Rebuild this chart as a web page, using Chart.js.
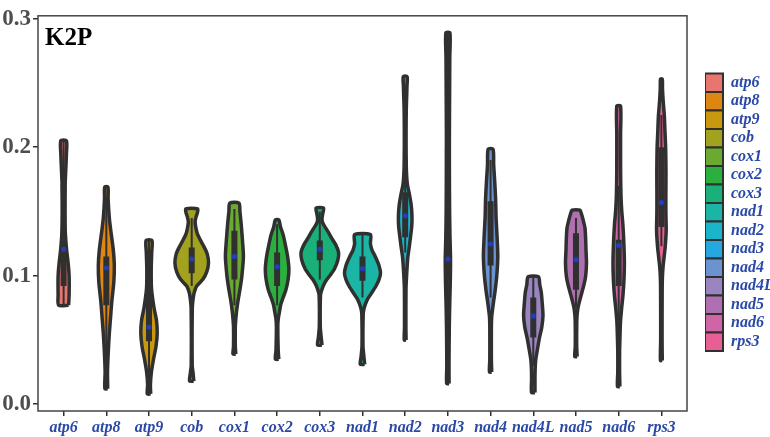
<!DOCTYPE html>
<html><head><meta charset="utf-8">
<script src="https://cdn.jsdelivr.net/npm/chart.js@4/dist/chart.umd.min.js"></script>
<style>html,body{margin:0;padding:0;background:#fff}#wrap{width:770px;height:437px;position:relative}</style>
</head><body><div id="wrap"><canvas id="c"></canvas></div>
<script>
// ---- data ----
const genes = ['atp6','atp8','atp9','cob','cox1','cox2','cox3','nad1','nad2','nad3','nad4','nad4L','nad5','nad6','rps3'];
const yTicks = [0.0, 0.1, 0.2, 0.3];
const boxLow    = [0.092, 0.077, 0.049, 0.102, 0.097, 0.092, 0.112, 0.096, 0.130, 0.097, 0.108, 0.052, 0.089, 0.092, 0.138];
const boxHigh   = [0.171, 0.115, 0.093, 0.122, 0.135, 0.118, 0.1275, 0.115, 0.165, 0.200, 0.158, 0.083, 0.133, 0.128, 0.200];
const whiskLow  = [0.077, 0.027, 0.020, 0.092, 0.077, 0.077, 0.097, 0.083, 0.118, 0.016, 0.083, 0.030, 0.075, 0.065, 0.123];
const whiskHigh = [0.205, 0.160, 0.1275, 0.145, 0.152, 0.140, 0.150, 0.132, 0.176, 0.289, 0.190, 0.099, 0.145, 0.170, 0.225];
const means     = [0.1206, 0.106, 0.060, 0.113, 0.115, 0.107, 0.1206, 0.1056, 0.1466, 0.113, 0.1247, 0.0687, 0.1125, 0.1237, 0.157];
// violin density profiles: [value, relative density]
const violin_atp6 = [[0.077,5],[0.085,5.5],[0.100,5.5],[0.110,4.5],[0.120,3],[0.135,1.6],[0.150,1.2],[0.170,1.5],[0.185,2.3],[0.195,2.8],[0.205,2.8]];
const violin_atp8 = [[0.012,1.4],[0.025,1.2],[0.040,1.9],[0.055,3],[0.065,4],[0.080,5.5],[0.095,7.5],[0.108,8],[0.120,7],[0.135,4.5],[0.145,3],[0.160,1.8],[0.169,1.6]];
const violin_atp9 = [[0.008,1.7],[0.015,1.4],[0.025,2.4],[0.035,4.5],[0.045,7],[0.055,8.2],[0.065,7.5],[0.075,5],[0.090,2.5],[0.105,2.2],[0.118,2.7],[0.1275,2.9]];
const violin_cob  = [[0.018,2.1],[0.024,1.4],[0.030,0.5],[0.075,0.6],[0.082,1.4],[0.087,2.5],[0.092,5],[0.097,11],[0.103,15],[0.110,16.8],[0.117,15.5],[0.123,12],[0.128,8.5],[0.133,5.5],[0.138,4],[0.142,3.4],[0.146,4.4],[0.149,5.7],[0.152,5.9]];
const violin_cox1 = [[0.039,1.4],[0.045,0.9],[0.060,0.9],[0.066,1.4],[0.072,2.1],[0.080,3.5],[0.090,5.7],[0.100,7.5],[0.115,9],[0.128,8],[0.140,6.8],[0.150,5.5],[0.1565,4.6]];
const violin_cox2 = [[0.035,1.7],[0.042,1.1],[0.060,0.7],[0.066,1.1],[0.072,2.4],[0.077,3.5],[0.083,6],[0.089,8.8],[0.097,11],[0.105,11.8],[0.115,10.5],[0.125,8],[0.132,6],[0.138,3.4],[0.1435,1.7]];
const violin_cox3 = [[0.046,2.2],[0.052,1.4],[0.060,0.5],[0.085,0.7],[0.089,2],[0.093,4],[0.097,7],[0.101,11],[0.105,14.5],[0.112,18],[0.118,18.8],[0.124,16],[0.129,12],[0.133,9.2],[0.137,6],[0.141,3],[0.144,2.2],[0.148,2.9],[0.1527,3.7]];
const violin_nad1 = [[0.031,2.2],[0.037,1.4],[0.045,0.5],[0.070,0.7],[0.074,1.4],[0.078,3],[0.082,5.2],[0.087,9.5],[0.092,13.5],[0.097,16.5],[0.102,18],[0.108,16.5],[0.115,12.7],[0.120,9.5],[0.125,7.9],[0.132,7.9]];
const violin_nad2 = [[0.050,0.9],[0.060,0.7],[0.090,0.8],[0.100,1.4],[0.108,2],[0.115,2.7],[0.122,4],[0.130,5.3],[0.138,6.5],[0.146,6.8],[0.155,6],[0.163,4.3],[0.170,2.4],[0.176,1.6],[0.185,1.1],[0.200,0.9],[0.215,0.9],[0.230,1.1],[0.240,1.5],[0.248,1.8],[0.255,1.9]];
const violin_nad3 = [[0.016,1.2],[0.030,1.1],[0.060,1.4],[0.080,1.9],[0.092,2.3],[0.105,2.6],[0.115,2.6],[0.130,2.1],[0.150,1.7],[0.180,1.5],[0.210,1.5],[0.240,1.7],[0.270,1.9],[0.289,2.0]];
const violin_nad4 = [[0.025,1.1],[0.035,0.8],[0.060,0.8],[0.068,1.1],[0.074,2],[0.080,3],[0.088,4.5],[0.100,6.2],[0.115,7.2],[0.130,6.5],[0.145,5.5],[0.160,5],[0.175,4],[0.186,3.1],[0.1985,2.4]];
const violin_nad4L = [[0.009,1.7],[0.020,1.7],[0.028,1.9],[0.035,2.5],[0.042,4],[0.051,6],[0.060,8.5],[0.069,9.7],[0.078,9],[0.087,8],[0.093,6.5],[0.0992,5.1]];
const violin_nad5 = [[0.037,1.2],[0.045,0.7],[0.065,0.8],[0.070,1.2],[0.075,2],[0.080,3.5],[0.085,5.2],[0.093,8],[0.100,9.7],[0.110,10.5],[0.120,10],[0.128,9.7],[0.137,9],[0.143,7.3],[0.148,5.5],[0.151,3.9]];
const violin_nad6 = [[0.0137,1.2],[0.025,0.9],[0.040,0.9],[0.050,1.2],[0.064,1.8],[0.075,3],[0.085,4.3],[0.097,5.3],[0.110,5.7],[0.125,5.2],[0.140,4.2],[0.150,3.1],[0.160,2.4],[0.175,2.0],[0.190,1.9],[0.210,1.9],[0.232,1.9]];
const violin_rps3 = [[0.034,0.9],[0.050,0.7],[0.090,0.8],[0.100,1.1],[0.108,1.8],[0.115,2.8],[0.122,3.8],[0.135,4.8],[0.150,4.5],[0.165,4.5],[0.180,4.6],[0.199,4.3],[0.212,3.6],[0.224,3.0],[0.237,1.7],[0.246,1.1],[0.253,0.9]];
const violins = [violin_atp6, violin_atp8, violin_atp9, violin_cob, violin_cox1, violin_cox2, violin_cox3, violin_nad1, violin_nad2, violin_nad3, violin_nad4, violin_nad4L, violin_nad5, violin_nad6, violin_rps3];

// ---- styles ----
const palette = ['#E8756E','#DE8512','#C8980F','#A2A21E','#6AAA30','#2BB040','#1AB07A','#1AB5A5','#1AB5CA','#25A8E0','#6A93CF','#9A85C0','#B06FB0','#D065A5','#E85F95'];
const DARK = '#303030';
const LABEL_BLUE = '#2A49A6';
const DENSITY_SCALE = 1 / 42.7;   // density -> category units
const LEGEND_W = 83, LEGEND_GAP = 18, KEY_H = 18.5, LEGEND_TOP = 73.5;

const datasets = [];
genes.forEach((g, i) => {
  const c = i + 1;
  const prof = violins[i];
  const pts = [];
  prof.forEach(([v, d]) => pts.push({x: c + d * DENSITY_SCALE, y: v}));
  for (let k = prof.length - 1; k >= 0; k--) pts.push({x: c - prof[k][1] * DENSITY_SCALE, y: prof[k][0]});
  pts.push(pts[0]);
  datasets.push({label: g, data: pts, showLine: true, fill: 'shape', backgroundColor: palette[i],
    borderColor: DARK, borderWidth: 3.5, borderJoinStyle: 'round', tension: 0.25, pointRadius: 0, order: 3});
  datasets.push({label: g + '-whisker', data: [{x: c, y: whiskLow[i]}, {x: c, y: whiskHigh[i]}], showLine: true,
    borderColor: DARK, borderWidth: 2, pointRadius: 0, fill: false, order: 2});
  datasets.push({label: g + '-box', data: [{x: c, y: boxLow[i]}, {x: c, y: boxHigh[i]}], showLine: true,
    borderColor: DARK, borderWidth: 6, borderCapStyle: 'butt', pointRadius: 0, fill: false, order: 1});
  datasets.push({label: g + '-mean', data: [{x: c, y: means[i]}], showLine: false,
    pointRadius: 2.6, pointBackgroundColor: '#1F3FC0', pointBorderWidth: 0, order: 0});
});

const helper = {
  id: 'helper',
  beforeLayout(chart) {
    const lg = chart.legend;
    if (lg && !lg._fixedFit) {
      const orig = lg.fit;
      lg.fit = function () { orig.call(this); this.width = LEGEND_W; };
      lg._fixedFit = true;
    }
  },
  afterLayout(chart) {
    const lg = chart.legend;
    const h = lg.bottom - lg.top;
    const colH = genes.length * KEY_H;
    const top = LEGEND_TOP - (h - colH) / 2;
    lg.top = top; lg.bottom = top + h;
    lg.left += LEGEND_GAP; lg.right += LEGEND_GAP;
  },
  beforeDatasetsDraw(chart) {
    const {ctx, chartArea: a} = chart;
    ctx.save();
    ctx.strokeStyle = '#444';
    ctx.lineWidth = 1.5;
    ctx.strokeRect(a.left, a.top, a.right - a.left, a.bottom - a.top);
    ctx.restore();
  },
  afterDatasetsDraw(chart) {
    const {ctx, chartArea: a} = chart;
    ctx.save();
    ctx.fillStyle = '#000';
    ctx.font = 'bold 25px "Liberation Serif", serif';
    ctx.textBaseline = 'alphabetic';
    ctx.fillText('K2P', a.left + 7, a.top + 29);
    ctx.restore();
  }
};

new Chart(document.getElementById('c'), {
  type: 'scatter',
  data: {datasets},
  options: {
    responsive: true, maintainAspectRatio: false, animation: false, events: [],
    layout: {padding: {top: 8, left: 0, right: 0, bottom: 0}},
    scales: {
      x: {type: 'linear', min: 0.4, max: 15.6,
        afterBuildTicks: s => { s.ticks = genes.map((g, i) => ({value: i + 1})); },
        afterFit: s => { s.height = 26; },
        ticks: {autoSkip: false, maxRotation: 0, padding: 2, color: LABEL_BLUE,
          font: {family: '"Liberation Serif", serif', size: 16, weight: 'bold', style: 'italic'},
          callback: v => genes[Math.round(v) - 1]},
        grid: {display: true, drawOnChartArea: false, drawTicks: true, tickLength: 5, tickColor: DARK, lineWidth: 1.5},
        border: {display: false}
      },
      y: {type: 'linear', min: -0.0053, max: 0.3023,
        afterBuildTicks: s => { s.ticks = yTicks.map(v => ({value: v})); },
        afterFit: s => { s.width = 38; },
        ticks: {padding: 2, color: '#4D4D4D', font: {family: '"Liberation Serif", serif', size: 23, weight: 'bold'},
          callback: v => v.toFixed(1)},
        grid: {display: true, drawOnChartArea: false, drawTicks: true, tickLength: 5, tickColor: DARK, lineWidth: 1.5},
        border: {display: false}
      }
    },
    plugins: {
      tooltip: {enabled: false},
      legend: {position: 'right', align: 'center', onClick: null,
        labels: {boxWidth: 18, boxHeight: KEY_H, padding: 0,
          font: {family: '"Liberation Serif", serif', size: 16, weight: 'bold', style: 'italic'},
          generateLabels: () => genes.map((g, i) => ({text: g, fillStyle: palette[i], strokeStyle: DARK,
            lineWidth: 2, fontColor: LABEL_BLUE, hidden: false, datasetIndex: i * 4}))}
      }
    }
  },
  plugins: [helper]
});
</script></body></html>
